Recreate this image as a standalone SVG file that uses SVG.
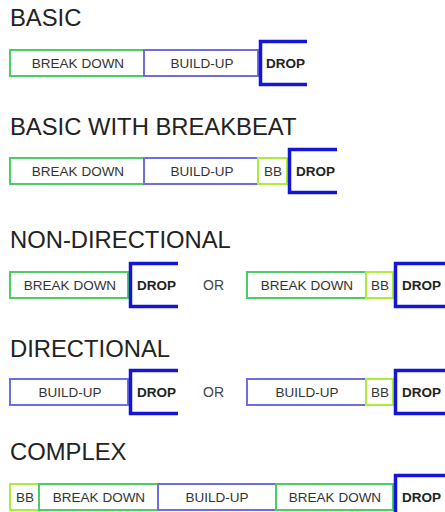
<svg xmlns="http://www.w3.org/2000/svg" width="445" height="512" viewBox="0 0 445 512">
  <style>
    .bg { fill: #ffffff; }
    .title { font-family: "Liberation Sans", Arial, sans-serif; font-size: 23.8px; fill: #222222; }
    .lbl { font-family: "Liberation Sans", Arial, sans-serif; font-size: 13.5px; fill: #333333; text-anchor: middle; }
    .drop { font-family: "Liberation Sans", Arial, sans-serif; font-size: 13.5px; font-weight: bold; fill: #222222; }
    .or { font-family: "Liberation Sans", Arial, sans-serif; font-size: 14px; fill: #444444; text-anchor: middle; }
    .bd { fill: #ffffff; stroke: #4ccc66; stroke-width: 2; }
    .bu { fill: #ffffff; stroke: #6e6ee0; stroke-width: 2; }
    .bb { fill: #ffffff; stroke: #aaee3a; stroke-width: 2; }
    .br { fill: none; stroke: #1515d8; stroke-width: 3.5; }
  </style>
  <rect class="bg" x="0" y="0" width="445" height="512"/>

  <!-- BASIC -->
  <g id="basic">
    <text class="title" x="10" y="26">BASIC</text>
    <g id="basic-breakdown"><rect class="bd" x="10" y="50" width="134" height="26"/><text class="lbl" x="78" y="67.5">BREAK DOWN</text></g>
    <g id="basic-buildup"><rect class="bu" x="144" y="50" width="114" height="26"/><text class="lbl" x="202" y="67.5">BUILD-UP</text></g>
    <g id="basic-drop"><path class="br" d="M307,41.5 H260.5 V84.5 H307"/><text class="drop" x="266" y="67.5">DROP</text></g>
  </g>

  <!-- BASIC WITH BREAKBEAT -->
  <g id="basic-bb">
    <text class="title" x="10" y="135">BASIC WITH BREAKBEAT</text>
    <g id="bb-breakdown"><rect class="bd" x="10" y="158" width="134" height="26"/><text class="lbl" x="78" y="175.5">BREAK DOWN</text></g>
    <g id="bb-buildup"><rect class="bu" x="144" y="158" width="114" height="26"/><text class="lbl" x="202" y="175.5">BUILD-UP</text></g>
    <g id="bb-bb"><rect class="bb" x="258" y="158" width="29" height="26"/><text class="lbl" x="273" y="175.5">BB</text></g>
    <g id="bb-drop"><path class="br" d="M337,149.5 H289.5 V192.5 H337"/><text class="drop" x="296" y="175.5">DROP</text></g>
  </g>

  <!-- NON-DIRECTIONAL -->
  <g id="non-directional">
    <text class="title" x="10" y="248">NON-DIRECTIONAL</text>
    <g id="nd-breakdown"><rect class="bd" x="10" y="272" width="118" height="26"/><text class="lbl" x="70" y="289.5">BREAK DOWN</text></g>
    <g id="nd-drop"><path class="br" d="M178,263.5 H130.5 V306.5 H178"/><text class="drop" x="137" y="289.5">DROP</text></g>
    <text class="or" x="213.5" y="289.5">OR</text>
    <g id="nd2-breakdown"><rect class="bd" x="247" y="272" width="119" height="26"/><text class="lbl" x="307" y="289.5">BREAK DOWN</text></g>
    <g id="nd2-bb"><rect class="bb" x="366" y="272" width="27" height="26"/><text class="lbl" x="380" y="289.5">BB</text></g>
    <g id="nd2-drop"><path class="br" d="M447,263.5 H395.5 V306.5 H447"/><text class="drop" x="402" y="289.5">DROP</text></g>
  </g>

  <!-- DIRECTIONAL -->
  <g id="directional">
    <text class="title" x="10" y="357">DIRECTIONAL</text>
    <g id="d-buildup"><rect class="bu" x="10" y="379" width="118" height="26"/><text class="lbl" x="70" y="396.5">BUILD-UP</text></g>
    <g id="d-drop"><path class="br" d="M178,370.5 H130.5 V413.5 H178"/><text class="drop" x="137" y="396.5">DROP</text></g>
    <text class="or" x="213.5" y="396.5">OR</text>
    <g id="d2-buildup"><rect class="bu" x="247" y="379" width="119" height="26"/><text class="lbl" x="307" y="396.5">BUILD-UP</text></g>
    <g id="d2-bb"><rect class="bb" x="366" y="379" width="27" height="26"/><text class="lbl" x="380" y="396.5">BB</text></g>
    <g id="d2-drop"><path class="br" d="M447,370.5 H395.5 V413.5 H447"/><text class="drop" x="402" y="396.5">DROP</text></g>
  </g>

  <!-- COMPLEX -->
  <g id="complex">
    <text class="title" x="10" y="460">COMPLEX</text>
    <g id="c-bb"><rect class="bb" x="10" y="484" width="29" height="26"/><text class="lbl" x="25" y="501.5">BB</text></g>
    <g id="c-breakdown1"><rect class="bd" x="39" y="484" width="119" height="26"/><text class="lbl" x="99" y="501.5">BREAK DOWN</text></g>
    <g id="c-buildup"><rect class="bu" x="158" y="484" width="118" height="26"/><text class="lbl" x="217" y="501.5">BUILD-UP</text></g>
    <g id="c-breakdown2"><rect class="bd" x="276" y="484" width="117" height="26"/><text class="lbl" x="335" y="501.5">BREAK DOWN</text></g>
    <g id="c-drop"><path class="br" d="M447,475.5 H395.5 V514"/><text class="drop" x="402" y="501.5">DROP</text></g>
  </g>
</svg>
